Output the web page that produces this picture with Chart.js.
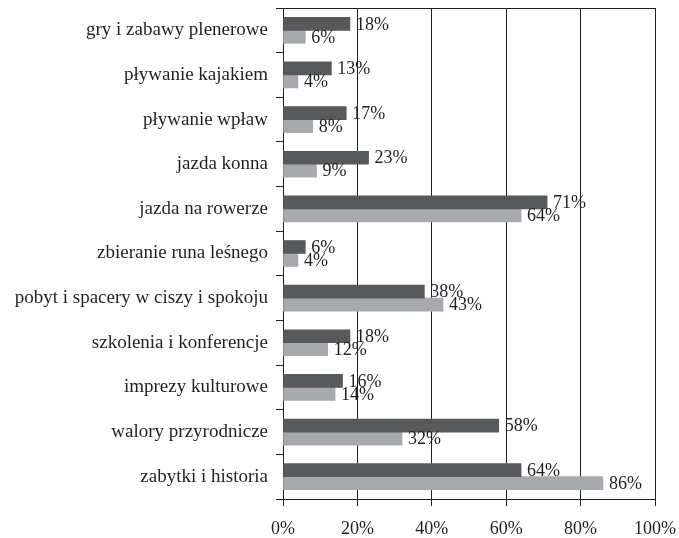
<!DOCTYPE html>
<html>
<head>
<meta charset="utf-8">
<script src="https://cdn.jsdelivr.net/npm/chart.js@4/dist/chart.umd.min.js"></script>
<style>
  html,body{margin:0;padding:0;background:#fff;}
  #wrap{width:679px;height:538px;}
</style>
</head>
<body>
<div id="wrap"><canvas id="chart" width="679" height="538"></canvas></div>
<script>
const categories=['gry i zabawy plenerowe','pływanie kajakiem','pływanie wpław','jazda konna','jazda na rowerze','zbieranie runa leśnego','pobyt i spacery w ciszy i spokoju','szkolenia i konferencje','imprezy kulturowe','walory przyrodnicze','zabytki i historia'];
const seriesDark=[18,13,17,23,71,6,38,18,16,58,64];
const seriesLight=[6,4,8,9,64,4,43,12,14,32,86];
const xTicks=[0,20,40,60,80,100];

const FONT='"Liberation Serif","Times New Roman",serif';
const TXT='#231f20';

const frame={
  id:'frame',
  afterDraw(chart){
    const {ctx,chartArea:a}=chart;
    ctx.save();
    ctx.strokeStyle='#231f20';
    ctx.lineWidth=1;
    ctx.beginPath();
    ctx.moveTo(Math.round(a.left)+0.5,Math.round(a.top)+0.5);
    ctx.lineTo(Math.round(a.right)+0.5,Math.round(a.top)+0.5);
    ctx.lineTo(Math.round(a.right)+0.5,Math.round(a.bottom)+0.5);
    ctx.stroke();
    ctx.restore();
  }
};

const valueLabels={
  id:'valueLabels',
  afterDatasetsDraw(chart){
    const ctx=chart.ctx;
    ctx.save();
    ctx.font='18px '+FONT;
    ctx.fillStyle=TXT;
    ctx.textAlign='left';
    ctx.textBaseline='middle';
    chart.data.datasets.forEach((ds,i)=>{
      chart.getDatasetMeta(i).data.forEach((bar,j)=>{
        ctx.fillText(ds.data[j]+'%',bar.x+6,bar.y+1);
      });
    });
    ctx.restore();
  }
};

new Chart(document.getElementById('chart'),{
  type:'bar',
  data:{labels:categories,datasets:[
    {label:'A',data:seriesDark,backgroundColor:'#58595b',barThickness:13},
    {label:'B',data:seriesLight,backgroundColor:'#a7a9ac',barThickness:13}
  ]},
  options:{
    indexAxis:'y',
    responsive:false,
    animation:false,
    layout:{padding:{top:8,right:24,left:0,bottom:0}},
    plugins:{legend:{display:false},tooltip:{enabled:false}},
    scales:{
      x:{
        min:0,max:100,
        afterBuildTicks(s){s.ticks=xTicks.map(v=>({value:v}));},
        afterFit(s){s.height=39;s.paddingRight=0;s.paddingLeft=0;},
        ticks:{color:TXT,font:{family:FONT,size:18},padding:12,callback:v=>v+'%'},
        grid:{color:'#231f20',lineWidth:1,tickLength:7},
        border:{color:'#231f20',width:1}
      },
      y:{
        afterFit(s){s.width=283;s.paddingTop=0;s.paddingBottom=0;},
        ticks:{color:TXT,font:{family:FONT,size:19},padding:8},
        grid:{drawOnChartArea:false,color:'#231f20',tickLength:7,offset:true},
        border:{color:'#231f20',width:1}
      }
    }
  },
  plugins:[frame,valueLabels]
});
</script>
</body>
</html>
